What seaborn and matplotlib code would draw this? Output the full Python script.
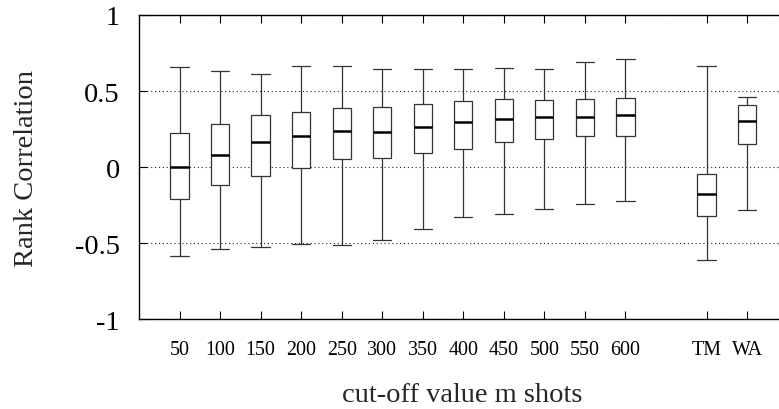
import matplotlib
matplotlib.use("Agg")
import matplotlib.pyplot as plt
import numpy as np
import pandas as pd
import seaborn as sns

# Five-number summaries of the rank correlation per cut-off value / method
labels = ["50", "100", "150", "200", "250", "300", "350", "400",
          "450", "500", "550", "600", "TM", "WA"]
whisker_low = [-0.583, -0.539, -0.522, -0.504, -0.509, -0.476, -0.404, -0.325,
               -0.305, -0.272, -0.243, -0.221, -0.607, -0.281]
q1 = [-0.206, -0.118, -0.055, -0.004, 0.057, 0.061, 0.096, 0.118,
      0.164, 0.184, 0.204, 0.202, -0.318, 0.151]
median = [0.004, 0.079, 0.164, 0.206, 0.241, 0.230, 0.265, 0.298,
          0.316, 0.327, 0.333, 0.340, -0.173, 0.307]
q3 = [0.224, 0.287, 0.340, 0.362, 0.388, 0.393, 0.417, 0.436,
      0.445, 0.443, 0.447, 0.452, -0.044, 0.412]
whisker_high = [0.660, 0.632, 0.612, 0.662, 0.662, 0.647, 0.645, 0.643,
                0.654, 0.645, 0.691, 0.713, 0.667, 0.463]

y_ticks = [-1, -0.5, 0, 0.5, 1]
y_tick_labels = ["-1", "-0.5", "0", "0.5", "1"]

# Long-form table: each group holds its five summary values, so the
# quartiles and the min/max whiskers reproduce the summaries exactly.
rows = []
for lab, lo, a, m, b, hi in zip(labels, whisker_low, q1, median, q3, whisker_high):
    for v in (lo, a, m, b, hi):
        rows.append({"method": lab, "corr": v})
df = pd.DataFrame(rows)

# An empty slot separates the cut-off values from TM / WA
gap_slot = " "
order = labels[:12] + [gap_slot] + labels[12:]

sns.set_style("white")
plt.rcParams["font.family"] = ["Liberation Serif", "DejaVu Serif"]

fig = plt.figure(figsize=(7.79, 4.10), dpi=100)
ax = fig.add_axes([0.1784, 0.2183, 0.8226, 0.7427])

sns.boxplot(
    data=df, x="method", y="corr", order=order,
    whis=(0, 100), width=0.45, color="white", linecolor="#333333",
    linewidth=0.9, fliersize=0, capwidths=0.45,
    medianprops=dict(color="black", linewidth=1.8),
    ax=ax,
)

tick_pos = [order.index(l) for l in labels]
ax.set_xticks(tick_pos)
ax.set_xticklabels(labels, fontsize=14.4)
ax.set_xlim(-1.0, 14.807)

ax.set_ylim(-1, 1)
ax.set_yticks(y_ticks)
ax.set_yticklabels(y_tick_labels, fontsize=20.5)

ax.grid(axis="y", color="#222222", linestyle=(0, (1, 2.5)), linewidth=0.8)
ax.set_axisbelow(True)

for side in ["left", "bottom", "top"]:
    ax.spines[side].set_visible(True)
    ax.spines[side].set_color("black")
    ax.spines[side].set_linewidth(1.0)
ax.spines["right"].set_visible(False)

ax.tick_params(axis="x", direction="in", length=5.5, width=0.8,
               top=True, bottom=True, pad=15, colors="black")
ax.tick_params(axis="y", direction="in", length=5.5, width=0.8,
               left=True, right=False, pad=13.7, colors="black")

ax.set_xlabel("cut-off value m shots", fontsize=20.5)
ax.set_ylabel("Rank Correlation", fontsize=20.5)
ax.xaxis.set_label_coords(0.505, -0.205)
ax.yaxis.set_label_coords(-0.156, 0.5)

fig.savefig("out.png", dpi=100)
